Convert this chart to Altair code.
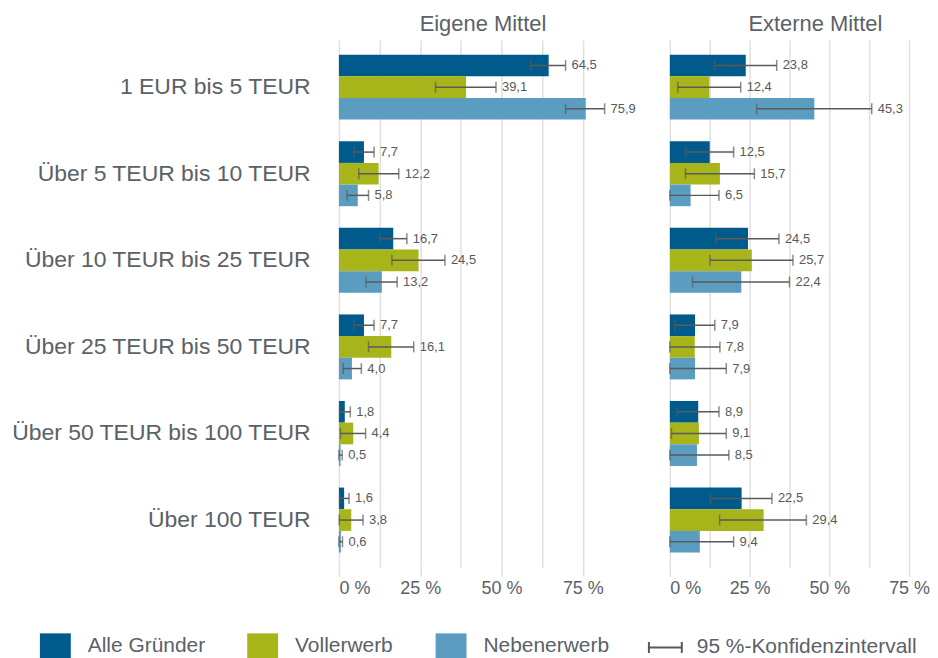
import altair as alt
import pandas as pd

categories = ["1 EUR bis 5 TEUR", "Über 5 TEUR bis 10 TEUR", "Über 10 TEUR bis 25 TEUR",
              "Über 25 TEUR bis 50 TEUR", "Über 50 TEUR bis 100 TEUR", "Über 100 TEUR"]
groups = ["Alle Gründer", "Vollerwerb", "Nebenerwerb"]
ci_label = "95 %-Konfidenzintervall"
panels = ["Eigene Mittel", "Externe Mittel"]
colors = ["#005A8B", "#A7B51B", "#5B9DC1"]

eigene_alle = [64.5, 7.7, 16.7, 7.7, 1.8, 1.6]
eigene_voll = [39.1, 12.2, 24.5, 16.1, 4.4, 3.8]
eigene_neben = [75.9, 5.8, 13.2, 4.0, 0.5, 0.6]
externe_alle = [23.8, 12.5, 24.5, 7.9, 8.9, 22.5]
externe_voll = [12.4, 15.7, 25.7, 7.8, 9.1, 29.4]
externe_neben = [45.3, 6.5, 22.4, 7.9, 8.5, 9.4]

eigene_alle_lo = [59.0, 4.7, 12.5, 4.6, 0.2, 0.2]
eigene_alle_hi = [69.7, 10.8, 20.9, 10.8, 3.5, 3.1]
eigene_voll_lo = [29.7, 6.1, 16.3, 9.1, 0.5, 0.1]
eigene_voll_hi = [48.3, 18.4, 32.6, 23.0, 8.2, 7.4]
eigene_neben_lo = [69.7, 2.5, 8.3, 1.3, 0.0, 0.0]
eigene_neben_hi = [81.7, 9.1, 17.9, 6.9, 1.0, 1.1]
externe_alle_lo = [14.0, 4.9, 14.5, 1.5, 2.3, 12.7]
externe_alle_hi = [33.5, 20.0, 34.2, 14.1, 15.4, 32.0]
externe_voll_lo = [2.5, 4.9, 12.6, 0.0, 0.5, 15.6]
externe_voll_hi = [22.2, 26.5, 38.6, 15.7, 17.7, 42.8]
externe_neben_lo = [27.2, 0.0, 7.1, 0.0, 0.0, 0.0]
externe_neben_hi = [63.3, 15.4, 37.5, 17.7, 18.5, 20.0]

series = {
    ("Eigene Mittel", "Alle Gründer"): (eigene_alle, eigene_alle_lo, eigene_alle_hi),
    ("Eigene Mittel", "Vollerwerb"): (eigene_voll, eigene_voll_lo, eigene_voll_hi),
    ("Eigene Mittel", "Nebenerwerb"): (eigene_neben, eigene_neben_lo, eigene_neben_hi),
    ("Externe Mittel", "Alle Gründer"): (externe_alle, externe_alle_lo, externe_alle_hi),
    ("Externe Mittel", "Vollerwerb"): (externe_voll, externe_voll_lo, externe_voll_hi),
    ("Externe Mittel", "Nebenerwerb"): (externe_neben, externe_neben_lo, externe_neben_hi),
}

rows = []
for (panel, grp), (vals, los, his) in series.items():
    for cat, v, lo, hi in zip(categories, vals, los, his):
        lab = f"{v:.1f}".replace(".", ",")
        if v < 10:
            lab = "\u00a0" + lab
        rows.append({"Mittel": panel, "Kategorie": cat, "Gruppe": grp,
                     "Wert": v, "Lo": lo, "Hi": hi, "Label": lab, "CI": ci_label})
df = pd.DataFrame(rows)

TXT = "#5B6168"
ERR = "#5A5A5A"
H = 529
LEG_X = -300
LEG_Y = 593

color = alt.Color(
    "Gruppe:N",
    scale=alt.Scale(domain=groups, range=colors),
    legend=alt.Legend(
        title=None, orient="none", legendX=LEG_X, legendY=LEG_Y,
        direction="horizontal", symbolSize=961, symbolType="M-1,-0.85H1V1H-1Z",
        labelFontSize=21, labelColor=TXT, labelOffset=17, columnPadding=42,
        padding=0, symbolOpacity=1, symbolStrokeWidth=0,
    ),
)

shape = alt.Shape(
    "CI:N",
    scale=alt.Scale(domain=[ci_label], range=["M-1,0H1M-1,-0.33V0.33M1,-0.33V0.33"]),
    legend=alt.Legend(
        title=None, orient="none", legendX=LEG_X + 610, legendY=LEG_Y - 1,
        direction="horizontal", symbolSize=1089, labelLimit=500,
        symbolStrokeColor=ERR, symbolStrokeWidth=2, symbolFillColor="transparent",
        symbolOpacity=1, labelFontSize=21, labelColor=TXT, labelOffset=14, padding=0,
    ),
)

xaxis = alt.Axis(
    values=[0, 12.5, 25, 37.5, 50, 62.5, 75],
    labelExpr="datum.value % 25 === 0 ? datum.value + ' %' : ''",
    grid=True, gridColor="#E0E0E0", gridWidth=1.5,
    tickColor={"condition": {"test": "datum.value % 25 === 0", "value": "#E0E0E0"}, "value": "transparent"},
    tickSize=9, tickWidth=1.5, domain=False, labelPadding=3,
    labelFontSize=18, labelColor=TXT, title=None,
)
xscale = alt.Scale(domain=[0, 80], nice=False)


def panel(name, show_y, dx, width):
    base = alt.Chart(df).transform_filter(alt.datum.Mittel == name)
    yaxis = alt.Axis(labelFontSize=23, labelColor=TXT, labelPadding=29, ticks=False,
                     domain=False, labelLimit=500, title=None) if show_y else None
    y = alt.Y("Kategorie:N", sort=categories, title=None,
              scale=alt.Scale(paddingInner=0.25, paddingOuter=0.17), axis=yaxis)
    yo = alt.YOffset("Gruppe:N", sort=groups, scale=alt.Scale(paddingInner=0, paddingOuter=0))

    def X(f):
        return alt.X(f, title=None, scale=xscale, axis=xaxis)

    bars = base.mark_bar().encode(x=X("Wert:Q"), y=y, yOffset=yo, color=color)
    rule = base.mark_rule(color=ERR, strokeWidth=1.5).encode(x=X("Lo:Q"), x2="Hi:Q", y=y, yOffset=yo)
    cap_lo = base.mark_tick(color=ERR, size=11, thickness=1.5, orient="vertical").encode(
        x=X("Lo:Q"), y=y, yOffset=yo)
    cap_hi = base.mark_tick(color=ERR, size=11, thickness=1.5, orient="vertical").encode(
        x=X("Hi:Q"), y=y, yOffset=yo)
    text = base.mark_text(align="left", baseline="middle", dx=6, fontSize=13, color="#595959").encode(
        x=X("Hi:Q"), y=y, yOffset=yo, text="Label:N")
    layers = [bars, rule, cap_lo, cap_hi, text]
    if show_y:
        ghost = base.mark_point(opacity=0, stroke=ERR).encode(
            x=X("Wert:Q"), y=y, yOffset=yo, shape=shape)
        layers.append(ghost)
    return alt.layer(*layers).properties(
        width=width, height=H,
        title=alt.Title(name, frame="group", dx=dx, fontSize=22, color=TXT,
                        fontWeight="normal", offset=4, anchor="middle"),
    )


chart = alt.hconcat(
    panel("Eigene Mittel", True, 14, 261),
    panel("Externe Mittel", False, 18, 256),
    spacing=71, bounds="flush",
).properties(
    padding={"left": 2, "top": 4, "right": 0, "bottom": 0}
).configure(
    font="Liberation Sans"
).configure_view(stroke=None)

chart.save("out.html", embed_options={"renderer": "svg", "actions": False})
